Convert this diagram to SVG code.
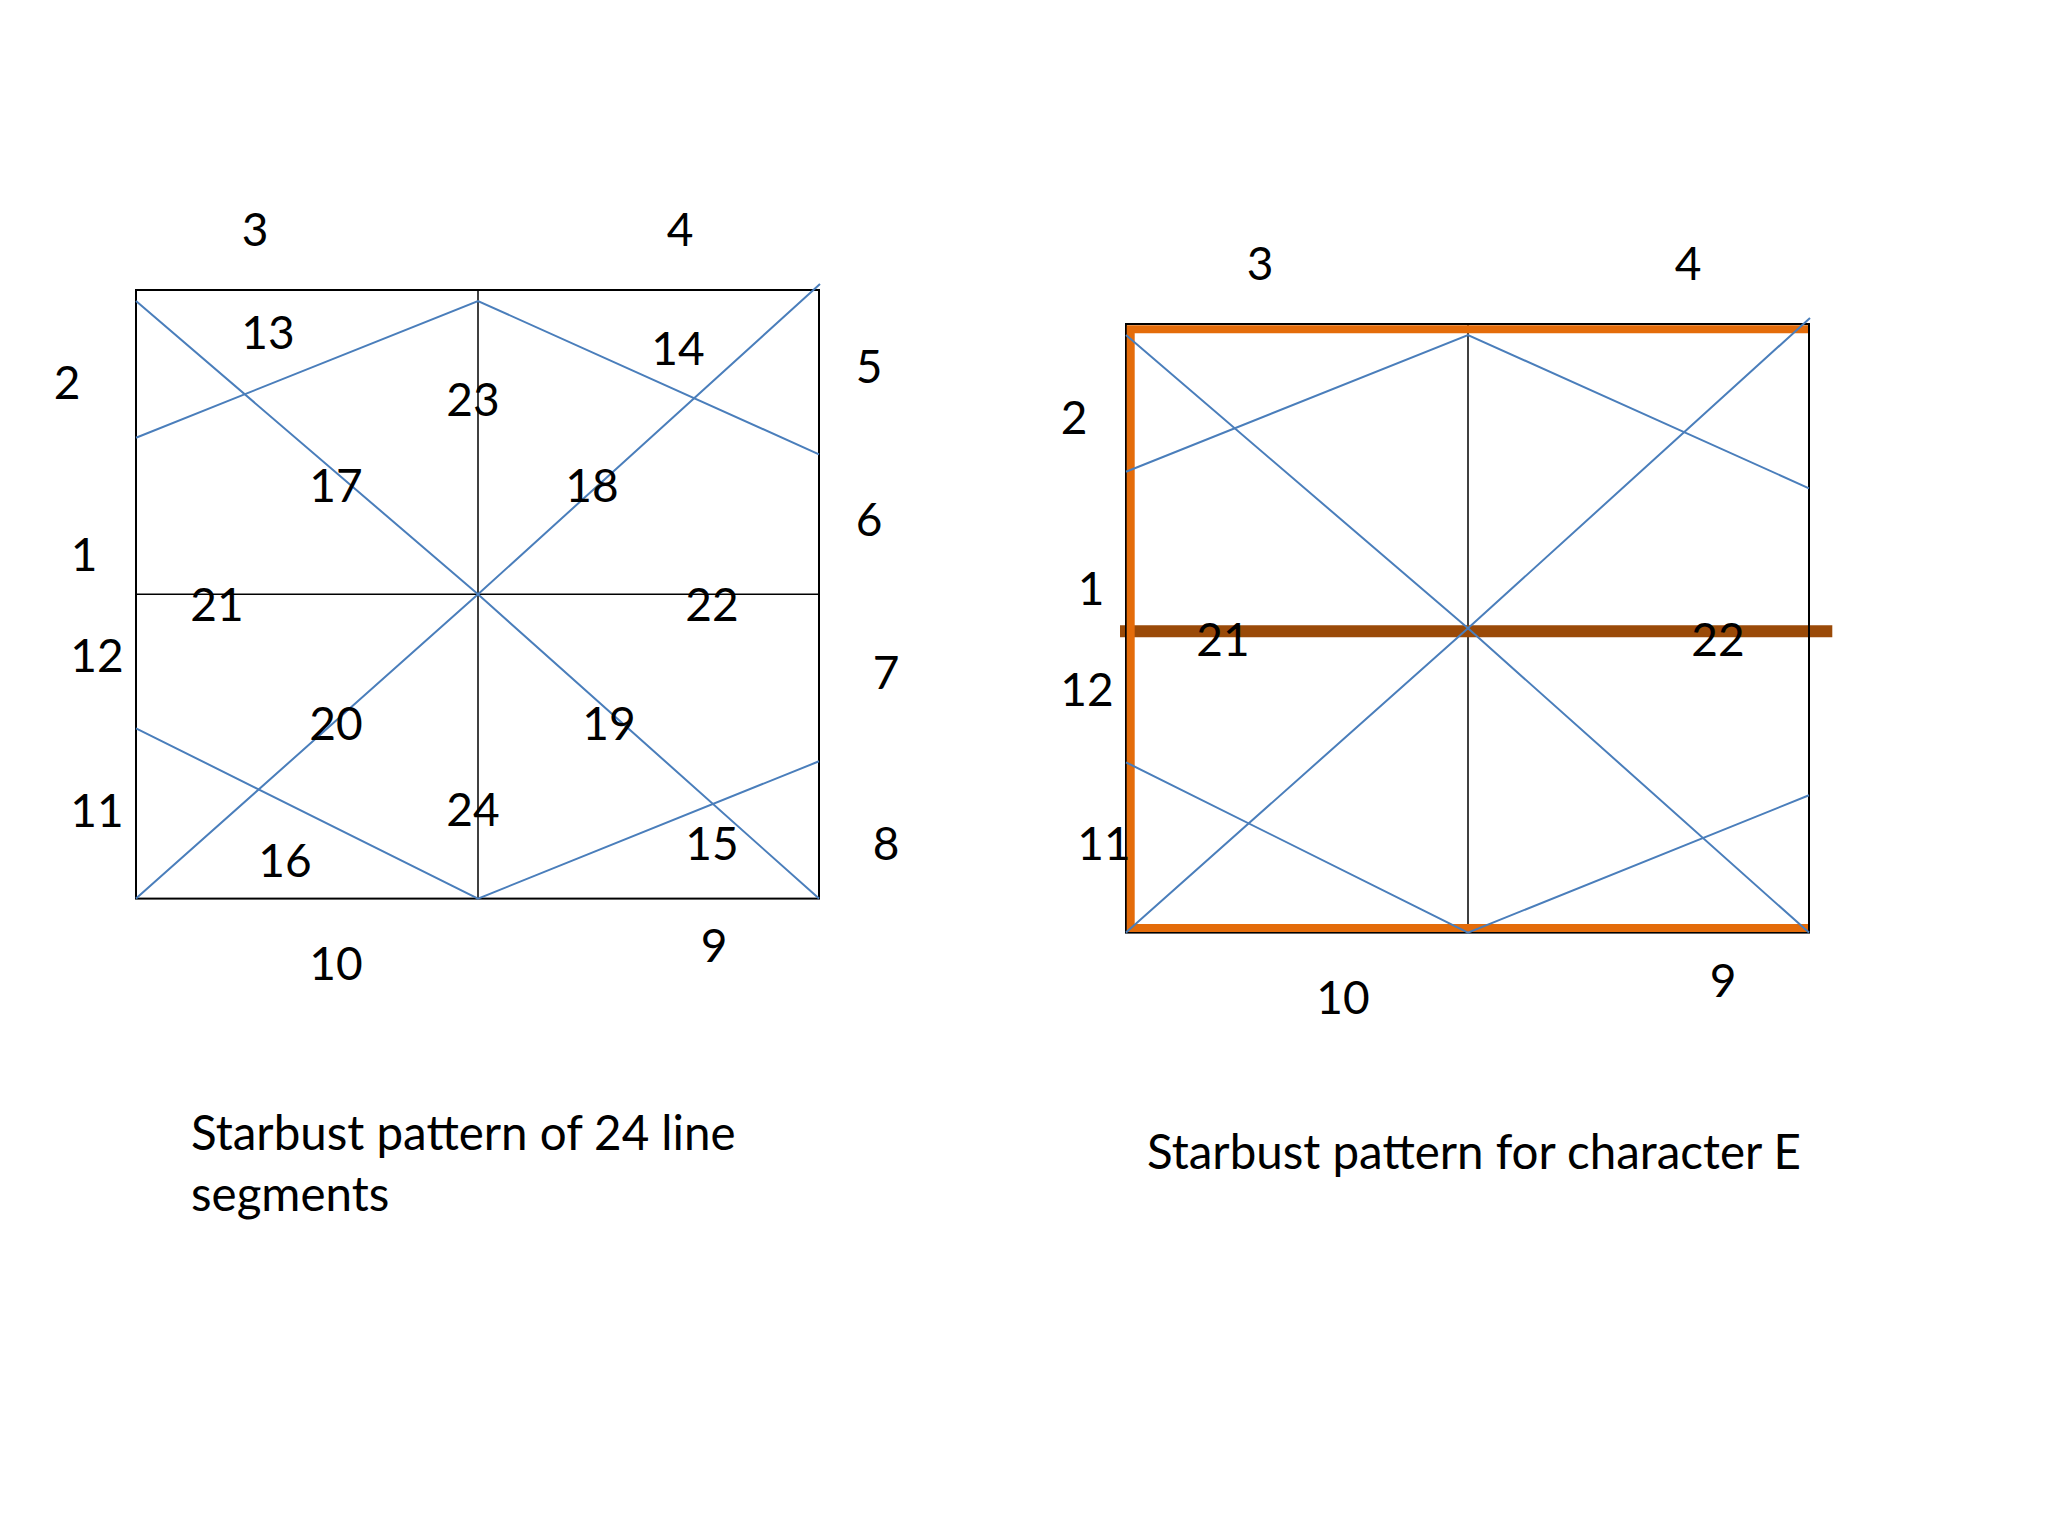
<svg xmlns="http://www.w3.org/2000/svg" width="2048" height="1536" viewBox="0 0 2048 1536">
<style>
.box{fill:none;stroke:#000;stroke-width:2}
.mid{stroke:#000;stroke-width:1.5;fill:none}
.ray{stroke:#4A7EBB;stroke-width:2;fill:none}
.lbl{font-family:Lato,"Liberation Sans",sans-serif;font-size:46px;fill:#000;text-anchor:middle}
.cap{font-family:Lato,"Liberation Sans",sans-serif;font-size:47.5px;fill:#000}
</style>
<rect width="2048" height="1536" fill="#fff"/>
<g id="left-pattern">
  <rect class="box" x="136" y="290" width="683" height="608.6"/>
  <g id="left-grid">
    <line class="mid" x1="478" y1="290" x2="478" y2="898.6"/>
    <line class="mid" x1="136" y1="594.3" x2="819" y2="594.3"/>
  </g>
  <g id="left-segments">
    <polyline class="ray" points="136,301 478,594.3 819,898.6"/>
    <polyline class="ray" points="136,898.6 478,594.3 820,284"/>
    <polyline class="ray" points="136,437.7 478,301 819,454.3"/>
    <polyline class="ray" points="136,728.3 478,898.6 819,761.3"/>
  </g>
  <g id="left-labels">
    <text class="lbl" x="255" y="246">3</text>
    <text class="lbl" x="680" y="246">4</text>
    <text class="lbl" x="67" y="399">2</text>
    <text class="lbl" x="84" y="571">1</text>
    <text class="lbl" x="97" y="672">12</text>
    <text class="lbl" x="97" y="827">11</text>
    <text class="lbl" x="869" y="383">5</text>
    <text class="lbl" x="869" y="536">6</text>
    <text class="lbl" x="886" y="689">7</text>
    <text class="lbl" x="886" y="860">8</text>
    <text class="lbl" x="714" y="962">9</text>
    <text class="lbl" x="336" y="980">10</text>
    <text class="lbl" x="268" y="349">13</text>
    <text class="lbl" x="678" y="365">14</text>
    <text class="lbl" x="473" y="416">23</text>
    <text class="lbl" x="336" y="502">17</text>
    <text class="lbl" x="592" y="502">18</text>
    <text class="lbl" x="217" y="621">21</text>
    <text class="lbl" x="712" y="621">22</text>
    <text class="lbl" x="336" y="740">20</text>
    <text class="lbl" x="609" y="740">19</text>
    <text class="lbl" x="473" y="826">24</text>
    <text class="lbl" x="285" y="877">16</text>
    <text class="lbl" x="712" y="860">15</text>
  </g>
  <text class="cap" x="191" y="1150">Starbust pattern of 24 line</text>
  <text class="cap" x="191" y="1211">segments</text>
</g>
<g id="right-pattern">
  <g id="right-grid">
    <line class="mid" x1="1126" y1="628.3" x2="1809" y2="628.3"/>
    <line class="mid" x1="1468" y1="324" x2="1468" y2="932.6"/>
  </g>
  <g id="character-E-bar">
    <line x1="1120" y1="631.3" x2="1832.3" y2="631.3" stroke="#9A4A08" stroke-width="12"/>
  </g>
  <rect class="box" x="1126" y="324" width="683" height="608.6"/>
  <g id="character-E-frame">
    <polyline points="1808,329.3 1130.7,329.3 1130.7,928 1808,928" fill="none" stroke="#E46C0A" stroke-width="8"/>
  </g>
  <g id="right-segments">
    <polyline class="ray" points="1126,335 1468,628.3 1809,932.6"/>
    <polyline class="ray" points="1126,932.6 1468,628.3 1810,318"/>
    <polyline class="ray" points="1126,471.7 1468,335 1809,488.3"/>
    <polyline class="ray" points="1126,762.3 1468,932.6 1809,795.3"/>
  </g>
  <g id="right-labels">
    <text class="lbl" x="1260" y="280">3</text>
    <text class="lbl" x="1688" y="280">4</text>
    <text class="lbl" x="1074" y="434">2</text>
    <text class="lbl" x="1091" y="605">1</text>
    <text class="lbl" x="1087" y="706">12</text>
    <text class="lbl" x="1104" y="860">11</text>
    <text class="lbl" x="1223" y="656">21</text>
    <text class="lbl" x="1718" y="656">22</text>
    <text class="lbl" x="1343" y="1014">10</text>
    <text class="lbl" x="1723" y="997">9</text>
  </g>
  <text class="cap" x="1147" y="1169">Starbust pattern for character E</text>
</g>
</svg>
